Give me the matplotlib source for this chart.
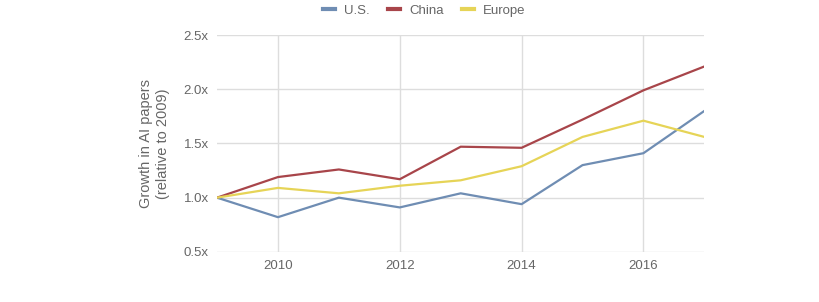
import matplotlib.pyplot as plt
import numpy as np

plt.rcParams['font.family'] = ['Liberation Sans', 'DejaVu Sans']

years = [2009, 2010, 2011, 2012, 2013, 2014, 2015, 2016, 2017]
us = [1.00, 0.82, 1.00, 0.91, 1.04, 0.94, 1.30, 1.41, 1.80]
china = [1.00, 1.19, 1.26, 1.17, 1.47, 1.46, 1.72, 1.99, 2.21]
europe = [1.00, 1.09, 1.04, 1.11, 1.16, 1.29, 1.56, 1.71, 1.56]

xticks = [2010, 2012, 2014, 2016]
yticks = [0.5, 1.0, 1.5, 2.0, 2.5]
ytick_labels = ["0.5x", "1.0x", "1.5x", "2.0x", "2.5x"]

grey = "#666666"

fig = plt.figure(figsize=(8.19, 3.02), dpi=100)
ax = fig.add_axes([0.265, 0.166, 0.595, 0.718])

ax.plot(years, us, color="#6f8db3", lw=1.6, label="U.S.")
ax.plot(years, china, color="#a8454a", lw=1.6, label="China")
ax.plot(years, europe, color="#e6d457", lw=1.6, label="Europe")

ax.set_xlim(2009, 2017)
ax.set_ylim(0.5, 2.5)
ax.set_xticks(xticks)
ax.set_xticklabels([str(y) for y in xticks])
ax.set_yticks(yticks)
ax.set_yticklabels(ytick_labels)
ax.tick_params(colors=grey, labelsize=9.5, length=0, pad=6)
ax.grid(True, color="#dddddd", lw=1)
for s in ax.spines.values():
    s.set_visible(False)

ax.set_ylabel("Growth in AI papers\n(relative to 2009)", color=grey, fontsize=10.5, labelpad=10)

leg = fig.legend(loc="upper center", bbox_to_anchor=(0.518, 1.025), ncol=3, frameon=False,
                 fontsize=9.5, handlelength=0.9, handletextpad=0.7, columnspacing=1.4)
for t in leg.get_texts():
    t.set_color(grey)
for h in leg.legend_handles:
    h.set_linewidth(3)

fig.savefig("out.png", dpi=100)
